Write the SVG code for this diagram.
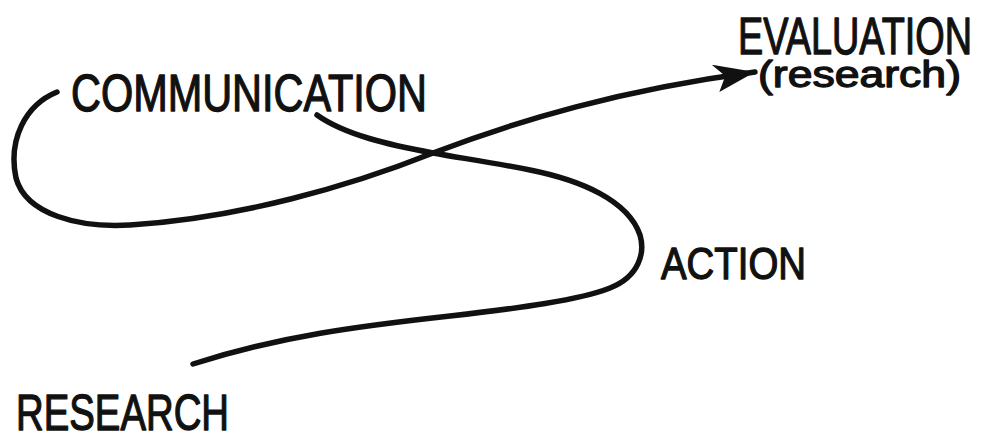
<svg xmlns="http://www.w3.org/2000/svg" width="982" height="435" viewBox="0 0 982 435">
  <style>
    .lbl { font-family: "Liberation Sans", Arial, sans-serif; font-weight: normal; fill: #111; stroke: #111; stroke-width: 1.3; stroke-linejoin: round; }
    .flow { fill: none; stroke: #111; stroke-width: 5.5; stroke-linecap: round; stroke-linejoin: round; }
  </style>
  <defs>
    <marker id="arrow" viewBox="0 0 44 30" refX="42" refY="13" markerWidth="44" markerHeight="30" markerUnits="userSpaceOnUse" orient="auto">
      <path d="M42,13 L0,0 L12,13 L4,28 Z" fill="#111"/>
    </marker>
  </defs>
  <rect width="982" height="435" fill="#fff"/>

  <g id="connectors">
    <!-- research, round the action bend, back up to communication -->
    <path class="flow" d="M193,364 C280,336 360,326 450,316 C520,308 580,300 610,288 C640,276 645,252 640,235 C628,200 580,180 530,170 C490,162 460,158 433,153 C390,145 345,135 317,115"/>
    <!-- communication loop, then on to evaluation -->
    <path class="flow" marker-end="url(#arrow)" d="M57,92 C25,105 8,140 16,178 C26,215 80,228 130,225 C240,218 350,186 433,153 C520,120 620,90 755,72"/>
  </g>

  <g id="research">
    <text class="lbl" x="16" y="430" font-size="50" textLength="213" lengthAdjust="spacingAndGlyphs">RESEARCH</text>
  </g>
  <g id="communication">
    <text class="lbl" x="71" y="111" font-size="51" textLength="356" lengthAdjust="spacingAndGlyphs">COMMUNICATION</text>
  </g>
  <g id="action">
    <text class="lbl" x="661" y="279" font-size="44" textLength="145" lengthAdjust="spacingAndGlyphs">ACTION</text>
  </g>
  <g id="evaluation">
    <text class="lbl" x="738" y="54" font-size="52" textLength="234" lengthAdjust="spacingAndGlyphs">EVALUATION</text>
    <text class="lbl" x="758" y="87" font-size="37" textLength="203" lengthAdjust="spacingAndGlyphs">(research)</text>
  </g>
</svg>
